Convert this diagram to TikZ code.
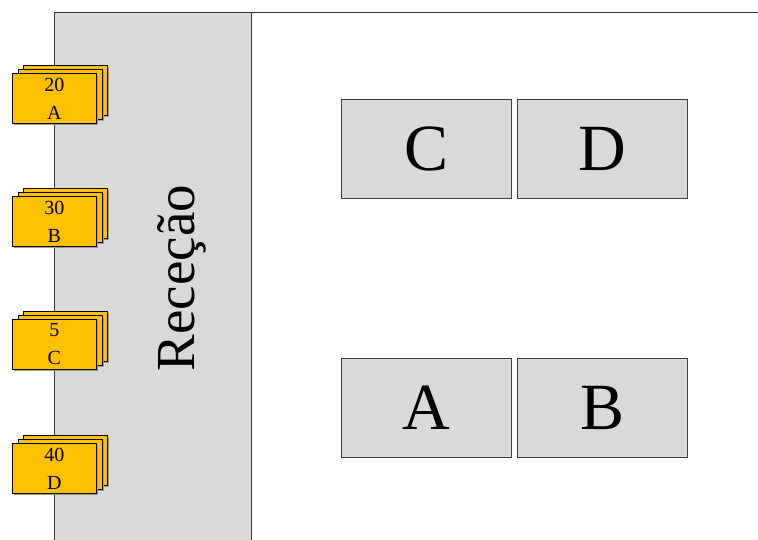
\documentclass[tikz,border=0pt]{standalone}
\usepackage{fontspec}
\setmainfont{Liberation Serif}
\definecolor{recgray}{HTML}{D9D9D9}
\definecolor{cardgold}{HTML}{FFC000}
\definecolor{shadowgray}{HTML}{9A9A9A}
\begin{document}
\begin{tikzpicture}[x=1pt,y=-1pt,
  card/.style={draw=black, fill=cardgold, line width=0.8pt, minimum width=84pt, minimum height=50pt, inner sep=0pt, anchor=north west},
  cardshadow/.style={fill=shadowgray, draw=none, minimum width=84pt, minimum height=50pt, inner sep=0pt, anchor=north west},
  cardtext/.style={font=\fontsize{20}{28}\selectfont, align=center},
  room/.style={draw=black!75, fill=recgray, line width=0.8pt, minimum width=170pt, minimum height=99pt, inner sep=0pt, anchor=north west, font=\fontsize{66}{66}\selectfont}]
\useasboundingbox (0,0) rectangle (758,540);
% reception area
\fill[recgray] (54,12) rectangle (251,540);
\draw[line width=0.8pt, black!80] (54,540) -- (54,12) -- (758,12);
\draw[line width=0.8pt, black!80] (251,12) -- (251,540);
\node[rotate=90, font=\fontsize{55}{55}\selectfont] (rec) at (182,278) {Receção};
% cards
\foreach \nm/\yy/\num/\lt in {a/73/20/A, b/196/30/B, c/319/5/C, d/443/40/D}{
  \node[cardshadow] at (24.5,\yy-6.5) {};
  \node[card] (\nm3) at (23,\yy-8) {};
  \node[cardshadow] at (19.5,\yy-2.5) {};
  \node[card] (\nm2) at (18,\yy-4) {};
  \node[cardshadow] at (13.5,\yy+1.5) {};
  \node[card] (\nm1) at (12,\yy) {};
  \node[cardtext] (\nm t) at (\nm1.center) {\num\\\lt};
}
% rooms
\node[room] (C) at (341,99) {C};
\node[room] (D) at (517,99) {D};
\node[room] (A) at (341,358) {A};
\node[room] (B) at (517,358) {B};
\end{tikzpicture}
\end{document}
